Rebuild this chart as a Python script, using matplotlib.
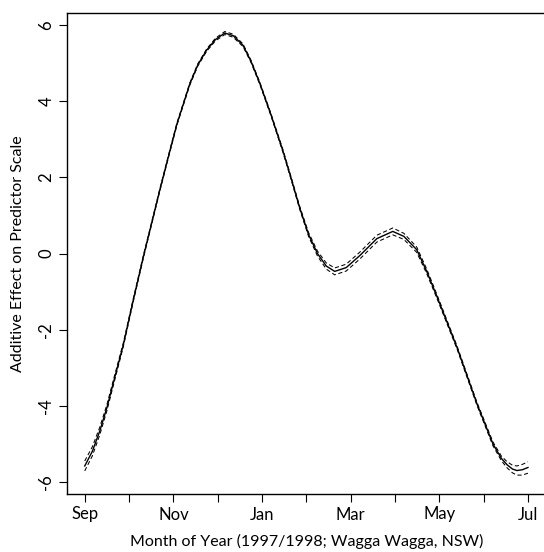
import matplotlib
matplotlib.use("Agg")
import matplotlib.pyplot as plt
import numpy as np

plt.rcParams['font.family'] = ['Lato', 'DejaVu Sans']

month_pos = [0, 0.17, 0.34, 0.5, 0.64, 0.87, 1.09, 1.33, 1.5, 1.69, 1.9, 2.08, 2.37, 2.55,
             2.75, 2.95, 3.16, 3.35, 3.57, 3.75, 3.95, 4.2, 4.47, 4.65, 4.85, 5.05, 5.25, 5.45,
             5.64, 5.9, 6.21, 6.59, 6.95, 7.2, 7.49, 7.72, 7.95, 8.40, 8.85, 9.21, 9.4, 9.53,
             9.65, 9.75, 9.87, 10.0]
effect = [-5.58, -5.2, -4.66, -4.05, -3.42, -2.4, -1.25, -0.05, 0.75, 1.65, 2.6, 3.4, 4.45,
          4.95, 5.34, 5.62, 5.79, 5.72, 5.47, 5.05, 4.47, 3.65, 2.7, 2.0, 1.2, 0.5, 0.0,
          -0.33, -0.47, -0.37, -0.05, 0.39, 0.58, 0.45, 0.1, -0.48, -1.14, -2.47, -3.95,
          -5.0, -5.38, -5.55, -5.66, -5.7, -5.68, -5.62]
se = [0.13, 0.12, 0.10, 0.08, 0.07, 0.05, 0.04, 0.035, 0.03, 0.03, 0.03, 0.03, 0.03, 0.03,
      0.03, 0.035, 0.04, 0.04, 0.035, 0.03, 0.03, 0.03, 0.035, 0.035, 0.04, 0.05, 0.065,
      0.08, 0.09, 0.09, 0.09, 0.09, 0.09, 0.08, 0.07, 0.06, 0.05, 0.04, 0.04, 0.05, 0.06,
      0.08, 0.10, 0.12, 0.14, 0.15]

tick_pos = list(range(11))
tick_labels = ['Sep', '', 'Nov', '', 'Jan', '', 'Mar', '', 'May', '', 'Jul']
y_ticks = [-6, -4, -2, 0, 2, 4, 6]

x = np.array(month_pos)
y = np.array(effect)
s = np.array(se)

fig = plt.figure(figsize=(5.44, 5.52), dpi=100)
W, H = 544, 552
left, right, top, bottom = 67, 545.7, 13, 494
ax = fig.add_axes([left / W, (H - bottom) / H, (right - left) / W, (bottom - top) / H])

ax.plot(x, y, color='black', lw=1.0)
ax.plot(x, y + s, color='black', lw=0.75, ls=(0, (4, 2.5)))
ax.plot(x, y - s, color='black', lw=0.75, ls=(0, (4, 2.5)))

ax.set_xlim(-0.4, 10.4)
ax.set_ylim(-6.316, 6.316)
ax.set_xticks(tick_pos)
ax.set_xticklabels(tick_labels, fontsize=12)
ax.set_yticks(y_ticks)
ax.set_yticklabels([str(v) for v in y_ticks], fontsize=12, rotation=90, va='center')
ax.tick_params(length=6, width=0.8, pad=3)
for sp in ax.spines.values():
    sp.set_linewidth(1.0)

ax.set_xlabel('Month of Year (1997/1998; Wagga Wagga, NSW)', fontsize=11.5, labelpad=8)
ax.set_ylabel('Additive Effect on Predictor Scale', fontsize=11.5, labelpad=10)

fig.savefig('out.png', dpi=100)
